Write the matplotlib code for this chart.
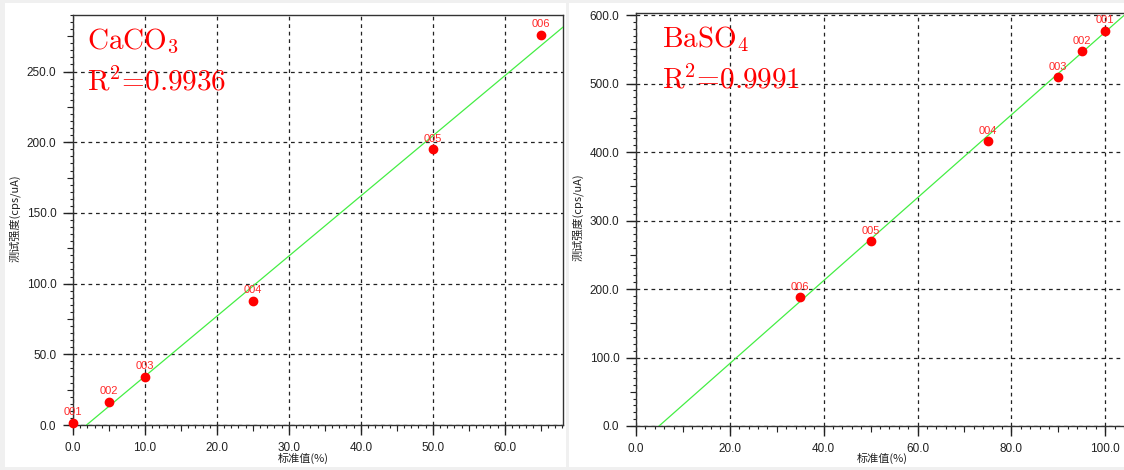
import matplotlib
matplotlib.use('Agg')
import matplotlib.pyplot as plt
import matplotlib.patches as patches
from matplotlib.ticker import MultipleLocator, FormatStrFormatter

plt.rcParams['font.family'] = ['Liberation Sans', 'Noto Sans CJK SC', 'DejaVu Sans']
plt.rcParams['mathtext.fontset'] = 'cm'

# CaCO3 标样
caco3_names = ['001', '002', '003', '004', '005', '006']
caco3_std = [0.0, 5.0, 10.0, 25.0, 50.0, 65.0]
caco3_int = [1.6, 16.5, 34.0, 87.7, 195.0, 276.0]
caco3_fit = (4.25, -8.0)   # 斜率, 截距
caco3_r2 = '0.9936'

# BaSO4 标样
baso4_names = ['001', '002', '003', '004', '005', '006']
baso4_std = [100.0, 95.0, 90.0, 75.0, 50.0, 35.0]
baso4_int = [577.0, 547.0, 509.0, 416.0, 270.0, 188.0]
baso4_fit = (6.05, -29.7)
baso4_r2 = '0.9991'

W, H = 1124, 470
fig = plt.figure(figsize=(W / 100, H / 100), dpi=100, facecolor='#f0f0f0')

# 两块白色面板
for x0, x1 in [(5, 566), (569, 1124)]:
    fig.patches.append(patches.Rectangle((x0 / W, (H - 467) / H), (x1 - x0) / W, 464 / H,
                                         transform=fig.transFigure, facecolor='white',
                                         edgecolor='none', zorder=-5))


def draw_panel(rect, names, xs, ys, fit, title, r2, xlim, ylim, xstep, ystep,
               txt_pos, xlabel_pos, ylabel_pos):
    ax = fig.add_axes(rect)
    ax.set_facecolor('white')
    ax.set_xlim(*xlim)
    ax.set_ylim(*ylim)

    # 刻度: 主 / 中 / 小
    ax.xaxis.set_major_locator(MultipleLocator(xstep))
    ax.xaxis.set_minor_locator(MultipleLocator(xstep / 10))
    ax.yaxis.set_major_locator(MultipleLocator(ystep))
    ax.yaxis.set_minor_locator(MultipleLocator(ystep / 10))
    ax.xaxis.set_major_formatter(FormatStrFormatter('%.1f'))
    ax.yaxis.set_major_formatter(FormatStrFormatter('%.1f'))
    ax.tick_params(which='major', direction='out', length=7, width=1, color='#222222',
                   labelsize=8.5, labelcolor='#222222', pad=5)
    ax.tick_params(which='minor', direction='out', length=2.5, width=0.8, color='#222222')
    for sp in ax.spines.values():
        sp.set_color('#333333')
        sp.set_linewidth(1)

    sx = ax.secondary_xaxis('bottom')
    sx.xaxis.set_major_locator(MultipleLocator(xstep / 2))
    sx.tick_params(direction='out', length=4.5, width=0.8, color='#222222', labelbottom=False)
    sx.spines['bottom'].set_visible(False)
    sy = ax.secondary_yaxis('left')
    sy.yaxis.set_major_locator(MultipleLocator(ystep / 2))
    sy.tick_params(direction='out', length=4.5, width=0.8, color='#222222', labelleft=False)
    sy.spines['left'].set_visible(False)

    ax.grid(True, which='major', color='#222222', linestyle=(0, (3, 3)), linewidth=0.9)
    ax.set_axisbelow(True)

    # 拟合直线
    a, b = fit
    lx = [-b / a, xlim[1]]
    ax.plot(lx, [a * v + b for v in lx], color='#44ee44', linewidth=0.9, zorder=3)

    ax.plot(xs, ys, 'o', color='#ff0000', markersize=6, zorder=4, clip_on=False)
    for n, x, y in zip(names, xs, ys):
        ax.annotate(n, (x, y), xytext=(0, 4), textcoords='offset points', ha='center',
                    va='bottom', fontsize=8, color='#ff2a2a', zorder=5)

    ax.text(txt_pos[0], txt_pos[1], title, transform=ax.transAxes, fontsize=21,
            color='red', va='baseline', ha='left', family=['cmr10'])
    ax.text(txt_pos[0], txt_pos[2], r'R$^2$=' + r2, transform=ax.transAxes,
            fontsize=21, color='red', va='baseline', ha='left', family=['cmr10'])

    ax.set_xlabel('标准值(%)', family=['Noto Sans CJK SC'], fontsize=8, color='#222222')
    ax.set_ylabel('测试强度(cps/uA)', family=['Noto Sans CJK SC'], fontsize=8, color='#222222')
    ax.xaxis.set_label_coords(*xlabel_pos)
    ax.yaxis.set_label_coords(*ylabel_pos)
    return ax


ax1 = draw_panel([73 / W, (H - 425) / H, 490 / W, 410 / H], caco3_names, caco3_std, caco3_int,
                 caco3_fit, r'CaCO$_3$', caco3_r2, (0, 68.1), (0, 290), 10, 50,
                 (0.029, 0.917, 0.815), (0.469, -0.068), (-0.108, 0.505))

ax2 = draw_panel([636 / W, (H - 426) / H, 488 / W, 413 / H], baso4_names, baso4_std, baso4_int,
                 baso4_fit, r'BaSO$_4$', baso4_r2, (0, 104), (0, 603), 20, 100,
                 (0.053, 0.918, 0.816), (0.505, -0.066), (-0.107, 0.505))
ax2.spines['right'].set_visible(False)

fig.savefig('out.png', dpi=100, facecolor=fig.get_facecolor())
